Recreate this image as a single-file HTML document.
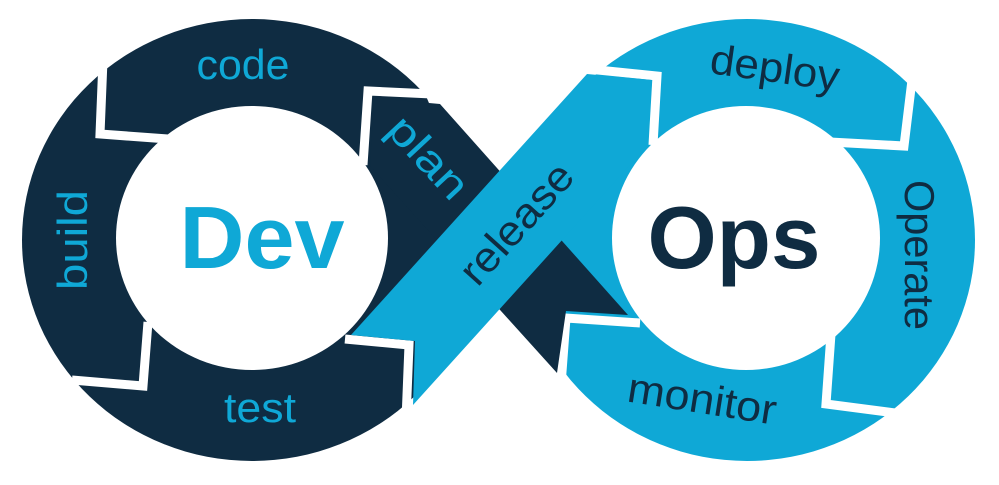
<!DOCTYPE html>
<html><head><meta charset="utf-8"><style>
html,body{margin:0;padding:0;background:#fff;width:999px;height:485px;overflow:hidden}
text{font-family:"Liberation Sans",sans-serif}
</style></head><body>
<svg width="999" height="485" viewBox="0 0 999 485" xmlns="http://www.w3.org/2000/svg">
<defs>
<clipPath id="cl"><polygon points="0,0 426,0 426,96 470,200 470,485 0,485"/></clipPath>
</defs>
<ellipse cx="252" cy="240" rx="230" ry="221" fill="#0f2c42" clip-path="url(#cl)"/>
<ellipse cx="747" cy="240" rx="228" ry="221" fill="#0fa8d6"/>
<ellipse cx="252" cy="238" rx="136" ry="132" fill="#fff"/>
<ellipse cx="746" cy="238" rx="134" ry="132" fill="#fff"/>
<g fill="none" stroke="#fff" stroke-width="9" stroke-linejoin="miter">
<polyline points="103,60 100,134 168,139"/>
<polyline points="72,380 143,386 148,322"/>
<polyline points="432,94 368,91 363,165"/>
<polyline points="345,339 409,345 406,420"/>
<polyline points="588,69 657,76 653,145"/>
<polyline points="912,80 904,146 830,142"/>
<polyline points="895,413 826,404 831,334"/>
<polyline points="561,385 566,318 640,323"/>
</g>
<polygon points="374,98 440,104 628,315 566,311 557,373 370,166" fill="#0f2c42"/>
<polygon points="351,335 587,74 652,80 648,145 413,405 415,341" fill="#0fa8d6"/>
<g font-size="42" fill="#0fa8d6" text-anchor="middle">
<text x="243" y="79" textLength="93" lengthAdjust="spacingAndGlyphs">code</text>
<text x="260" y="422" textLength="72" lengthAdjust="spacingAndGlyphs">test</text>
<text transform="translate(87,240) rotate(-90)" textLength="100" lengthAdjust="spacingAndGlyphs">build</text>
<text transform="translate(418,167) rotate(47)" textLength="98" lengthAdjust="spacingAndGlyphs">plan</text>
</g>
<g font-size="42" fill="#0f2c42" text-anchor="middle">
<text transform="translate(527,233) rotate(-48)" textLength="148" lengthAdjust="spacingAndGlyphs">release</text>
<text transform="translate(773,82) rotate(8)" textLength="130" lengthAdjust="spacingAndGlyphs">deploy</text>
<text transform="translate(905,255) rotate(90)" textLength="150" lengthAdjust="spacingAndGlyphs">Operate</text>
<text transform="translate(700,413) rotate(9)" textLength="150" lengthAdjust="spacingAndGlyphs">monitor</text>
</g>
<text x="262" y="268" font-size="88" font-weight="bold" fill="#0fa8d6" text-anchor="middle" textLength="165" lengthAdjust="spacingAndGlyphs">Dev</text>
<text x="734" y="268" font-size="88" font-weight="bold" fill="#0f2c42" text-anchor="middle" textLength="173" lengthAdjust="spacingAndGlyphs">Ops</text>
</svg>
</body></html>
